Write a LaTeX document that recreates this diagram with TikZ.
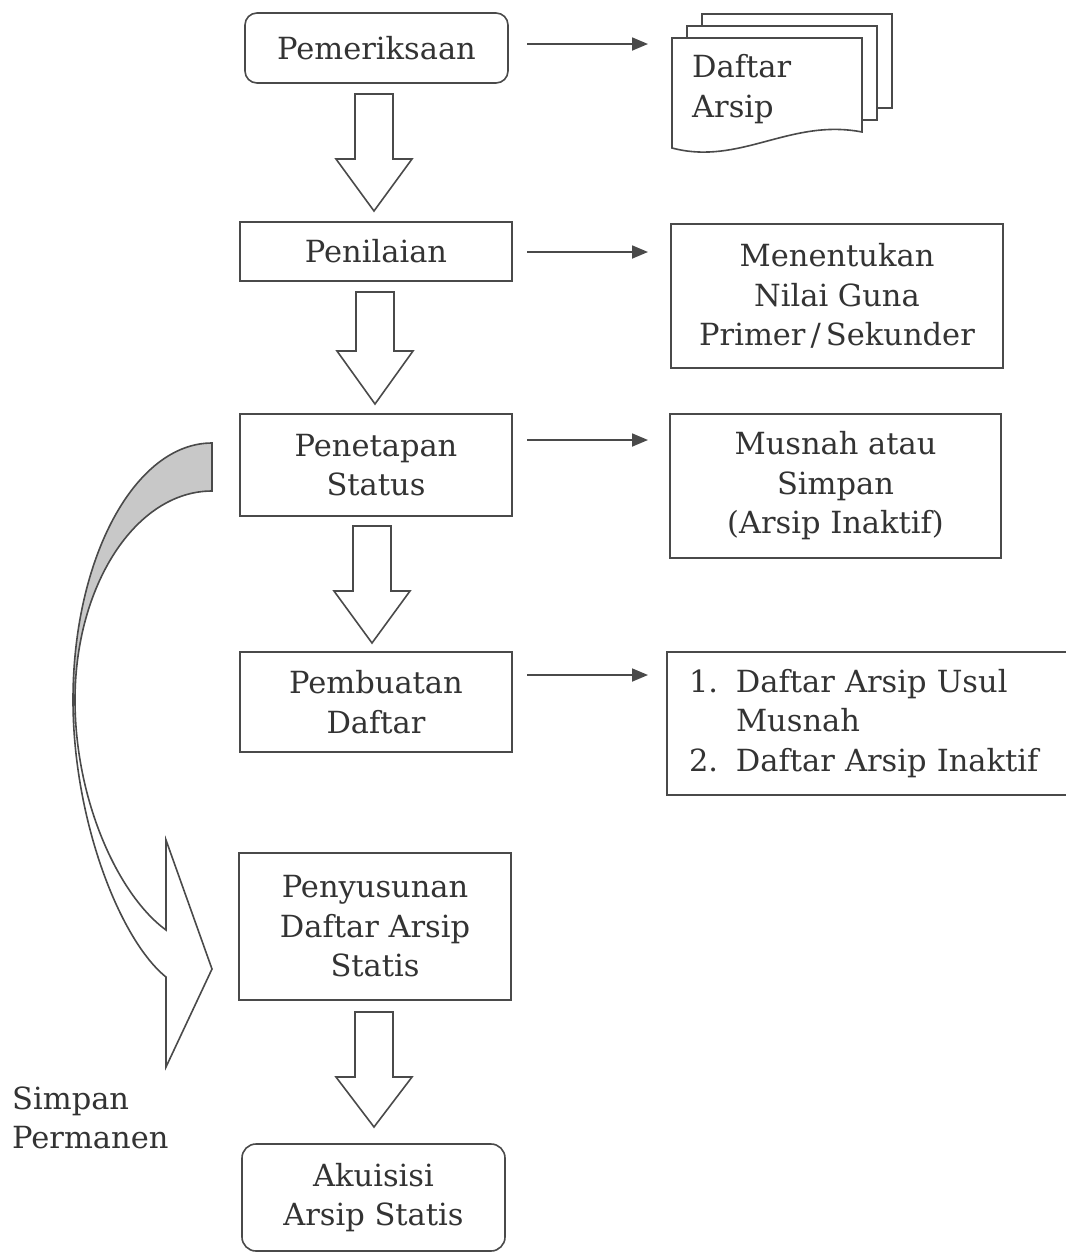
\documentclass[tikz,border=0pt]{standalone}
\usepackage{fontspec}
\setmainfont{DejaVu Serif}
\usetikzlibrary{arrows.meta}
\definecolor{ln}{HTML}{4A4A4A}
\definecolor{tx}{HTML}{333333}
\definecolor{band}{HTML}{C8C8C8}
\newcommand\blkarrow[4]{%
  \draw[blk] (#1-19,#2) -- (#1+19,#2) -- (#1+19,#3) -- (#1+38,#3) -- (#1,#4)
    -- (#1-38,#3) -- (#1-19,#3) -- cycle;}
\begin{document}
\begin{tikzpicture}[x=1pt,y=-1pt,
  txt/.style={text=tx, font=\fontsize{30.5}{39.5}\selectfont, inner sep=0pt},
  box/.style={txt, draw=ln, line width=1.6pt, align=center, fill=white},
  blk/.style={draw=ln, line width=1.6pt, fill=white, line join=miter},
  harrow/.style={draw=ln, line width=1.8pt, -{Triangle[length=16pt,width=13pt]}},
  page/.style={draw=ln, line width=1.6pt, fill=white}]
\useasboundingbox (0,0) rectangle (1066,1254);
\fill[white] (0,0) rectangle (1066,1254);

% main column
\node[box, minimum width=263pt, minimum height=70pt, rounded corners=12pt] (pem) at (376.5,48) {Pemeriksaan};
\node[box, minimum width=272pt, minimum height=59pt] (pen) at (376,251.5) {Penilaian};
\node[box, minimum width=272pt, minimum height=102pt] (pet) at (376,465) {Penetapan\\Status};
\node[box, minimum width=272pt, minimum height=100pt] (pemb) at (376,702) {Pembuatan\\Daftar};
\node[box, minimum width=272pt, minimum height=147pt] (peny) at (375,926.5) {Penyusunan\\Daftar Arsip\\Statis};
\node[box, minimum width=263pt, minimum height=107pt, rounded corners=14pt] (aku) at (373.5,1197.5) {Akuisisi\\Arsip Statis};

% block arrows
\blkarrow{374}{94}{159}{211}
\blkarrow{375}{292}{351}{404}
\blkarrow{372}{526}{591}{643}
\blkarrow{374}{1012}{1077}{1127}

% document stack
\draw[page] (702,14) rectangle (892,108);
\draw[page] (687,26) rectangle (877,120);
\draw[page] (672,38) -- (862,38) -- (862,132) .. controls (790,118) and (740,166) .. (672,148) -- cycle;
\node[txt, anchor=west, align=left] (doc) at (692,89) {Daftar\\Arsip};

% right boxes
\node[box, minimum width=332pt, minimum height=144pt] (men) at (837,296) {Menentukan\\Nilai Guna\\Primer\,/\,Sekunder};
\node[box, minimum width=331pt, minimum height=144pt] (mus) at (835.5,486) {Musnah atau\\Simpan\\(Arsip Inaktif)};
\node[box, align=left, inner xsep=22pt, inner ysep=0pt, text width=364pt, minimum height=143pt] (lst) at (871,723.5)
  {\makebox[47pt][l]{1.}Daftar Arsip Usul\\\makebox[47pt][l]{}Musnah\\\makebox[47pt][l]{2.}Daftar Arsip Inaktif};

% horizontal arrows
\coordinate (h1a) at (527,44);  \coordinate (h1b) at (648,44);
\coordinate (h2a) at (527,252); \coordinate (h2b) at (648,252);
\coordinate (h3a) at (527,440); \coordinate (h3b) at (648,440);
\coordinate (h4a) at (527,675); \coordinate (h4b) at (648,675);
\draw[harrow] (h1a) -- (h1b);
\draw[harrow] (h2a) -- (h2b);
\draw[harrow] (h3a) -- (h3b);
\draw[harrow] (h4a) -- (h4b);

% curved arrow
\coordinate (t1) at (212,443);
\coordinate (t2) at (212,491);
\coordinate (mo) at (73,700);
\coordinate (mi) at (75,700);
\coordinate (i2) at (166,930);
\coordinate (b1) at (166,840);
\coordinate (tip) at (212,969);
\coordinate (b2) at (166,1067);
\coordinate (o2) at (166,977);
\draw[draw=ln, line width=1.6pt, fill=white, line join=miter]
  (mi) .. controls (75,800) and (118,895) .. (i2) -- (b1) -- (tip) -- (b2) -- (o2)
  .. controls (120,940) and (73,820) .. (mo) -- cycle;
\draw[draw=ln, line width=1.6pt, fill=band, line join=miter]
  (t1) .. controls (135,443) and (73,558) .. (mo) -- (mi)
  .. controls (75,585) and (136,491) .. (t2) -- cycle;

\node[txt, anchor=west, align=left] (simp) at (12,1118) {Simpan\\Permanen};
\end{tikzpicture}
\end{document}
